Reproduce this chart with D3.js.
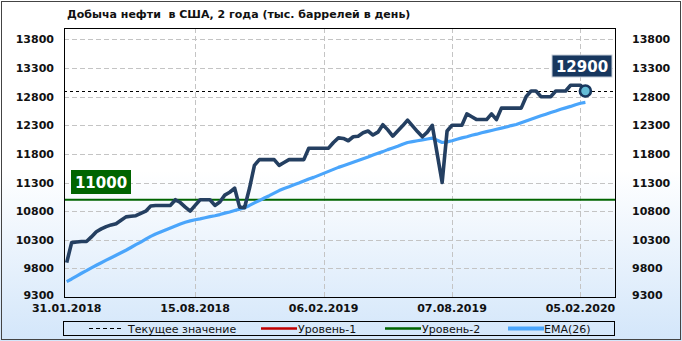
<!DOCTYPE html>
<html><head><meta charset="utf-8">
<script src="https://cdn.jsdelivr.net/npm/d3@7"></script>
<style>
html,body{margin:0;padding:0;background:#fff;}
svg{display:block;}
text{font-family:"DejaVu Sans",Verdana,sans-serif;}
</style></head>
<body><svg id="c" width="682" height="341"></svg>
<script>
const title = "Добыча нефти  в США, 2 года (тыс. баррелей в день)";
const xTickLabels = ["31.01.2018","15.08.2018","06.02.2019","07.08.2019","05.02.2020"];
const xTickIndex = [0, 26, 52, 78, 104];
const yTicks = [9300, 9800, 10300, 10800, 11300, 11800, 12300, 12800, 13300, 13800];
const production = [
 9900,10250,10260,10270,10270,10350,10440,10490,10530,10560,
 10580,10640,10700,10710,10720,10760,10800,10890,10900,10900,
 10900,10900,11000,10950,10870,10800,10900,11000,11000,11000,
 10900,10960,11080,11130,11200,10870,10860,11200,11600,11700,
 11700,11700,11700,11600,11650,11700,11700,11700,11700,11900,
 11900,11900,11900,11900,12000,12080,12070,12030,12100,12110,
 12170,12200,12130,12180,12310,12220,12110,12200,12290,12390,
 12290,12190,12100,12180,12300,11800,11300,12200,12300,12300,
 12300,12500,12450,12400,12400,12400,12500,12400,12600,12600,
 12600,12600,12600,12800,12900,12900,12800,12800,12800,12900,
 12900,12900,13000,13000,13000,12900];
const ema26 = [
 9570,9615,9665,9715,9760,9810,9855,9899,9943,9986,
 10030,10073,10117,10165,10215,10260,10310,10360,10400,10435,
 10470,10505,10540,10575,10605,10630,10650,10665,10685,10705,
 10720,10740,10765,10785,10810,10835,10860,10900,10945,10985,
 11030,11070,11115,11160,11195,11225,11260,11290,11325,11360,
 11390,11425,11460,11495,11530,11565,11595,11625,11655,11685,
 11715,11745,11780,11810,11840,11875,11905,11935,11970,12000,
 12015,12030,12045,12060,12075,12040,12000,12010,12030,12055,
 12080,12100,12125,12145,12170,12190,12210,12230,12250,12270,
 12295,12315,12345,12375,12405,12435,12465,12495,12525,12550,
 12580,12605,12630,12660,12685,12700];
const currentValue = 12900;
const level2 = 11000;
const legendLabels = ["Текущее значение","Уровень-1","Уровень-2","EMA(26)"];

const svg = d3.select("#c");
const W = 682, H = 341;
const P = {l:64, r:615, t:28, b:297};

const defs = svg.append("defs");
const g = defs.append("linearGradient").attr("id","bg").attr("x1",0).attr("y1",0).attr("x2",0).attr("y2",1);
g.append("stop").attr("offset","0").attr("stop-color","#ffffff");
g.append("stop").attr("offset","0.5").attr("stop-color","#ffffff");
g.append("stop").attr("offset","1").attr("stop-color","#d3e6fa");
svg.append("rect").attr("x",0).attr("y",0).attr("width",W).attr("height",H).attr("fill","url(#bg)");
svg.append("rect").attr("x",1.5).attr("y",1.5).attr("width",W-3).attr("height",H-3)
  .attr("fill","none").attr("stroke","#444").attr("stroke-width",1);

const x = d3.scaleLinear().domain([0, production.length-1]).range([66.7, 585.4]);
const y = d3.scaleLinear().domain([9300, 14000]).range([P.b, P.t]);

// grid
svg.append("g").selectAll("line").data(yTicks.filter(v=>v>9300)).join("line")
  .attr("x1",P.l).attr("x2",P.r).attr("y1",d=>Math.round(y(d))+0.5).attr("y2",d=>Math.round(y(d))+0.5)
  .attr("stroke","#c4c4c4").attr("stroke-dasharray","5,3");
svg.append("g").selectAll("line").data(xTickIndex.slice(1)).join("line")
  .attr("x1",d=>Math.round(x(d))+0.5).attr("x2",d=>Math.round(x(d))+0.5).attr("y1",P.t).attr("y2",P.b)
  .attr("stroke","#c4c4c4").attr("stroke-dasharray","5,3");

// y labels
const yl = svg.append("g").attr("font-size","11px").attr("font-weight","bold").attr("fill","#111");
yl.selectAll("text.l").data(yTicks).join("text").attr("class","l")
  .attr("x",54).attr("y",d=>Math.min(y(d),295)+4).attr("text-anchor","end").text(d=>d);
yl.selectAll("text.r").data(yTicks).join("text").attr("class","r")
  .attr("x",632).attr("y",d=>Math.min(y(d),295)+4).attr("text-anchor","start").text(d=>d);

// x labels
svg.append("g").attr("font-size","11px").attr("font-weight","bold").attr("fill","#111")
  .selectAll("text").data(xTickIndex).join("text")
  .attr("x",d=>x(d)).attr("y",312).attr("text-anchor","middle").text((d,i)=>xTickLabels[i]);

// level 2 line
svg.append("line").attr("x1",P.l).attr("x2",P.r).attr("y1",y(level2)).attr("y2",y(level2))
  .attr("stroke","#006400").attr("stroke-width",2);
// current value line
svg.append("line").attr("x1",P.l).attr("x2",P.r).attr("y1",Math.round(y(currentValue))+0.5).attr("y2",Math.round(y(currentValue))+0.5)
  .attr("stroke","#000").attr("stroke-width",1).attr("stroke-dasharray","3,3");

const line = d3.line().x((d,i)=>x(i)).y(d=>y(d));
svg.append("path").attr("d",line(ema26)).attr("fill","none").attr("stroke","#4aa5fb").attr("stroke-width",3.2)
  .attr("stroke-linejoin","round");
svg.append("path").attr("d",line(production)).attr("fill","none").attr("stroke","#243f61").attr("stroke-width",3.6)
  .attr("stroke-linejoin","round");

// plot frame
svg.append("rect").attr("x",P.l+0.5).attr("y",P.t+0.5).attr("width",P.r-P.l).attr("height",P.b-P.t)
  .attr("fill","none").attr("stroke","#000");

// end marker
const last = production.length-1;
svg.append("circle").attr("cx",x(last)).attr("cy",y(production[last])).attr("r",5.5)
  .attr("fill","#63bcd6").attr("stroke","#17375e").attr("stroke-width",2.6);

// value labels
function valLabel(cx, cy, w, h, fill, stroke, txt){
  svg.append("rect").attr("x",cx-w/2).attr("y",cy-h/2).attr("width",w).attr("height",h)
    .attr("fill",fill).attr("stroke",stroke||"none").attr("stroke-width",1);
  svg.append("text").attr("x",cx).attr("y",cy+5.5).attr("text-anchor","middle")
    .attr("font-size","15px").attr("font-weight","bold").attr("fill","#fff").text(txt);
}
valLabel(101, 182, 60, 24, "#006400", null, level2);
valLabel(582, 66, 60, 22, "#17375e", "#c8d0da", currentValue);

// title
svg.append("text").attr("x",67).attr("y",18).attr("font-size","11px").attr("font-weight","bold")
  .attr("fill","#111").style("white-space","pre").text(title);

// legend
const L = svg.append("g");
L.append("rect").attr("x",63.5).attr("y",321.5).attr("width",551).attr("height",14)
  .attr("fill","none").attr("stroke","#000");
const items = [
  {x1:89,x2:124,color:"#000",w:1,dash:"4,3",tx:128},
  {x1:261,x2:297,color:"#c00000",w:2.5,dash:null,tx:298},
  {x1:385,x2:421,color:"#006400",w:2.5,dash:null,tx:422},
  {x1:508,x2:544,color:"#4aa5fb",w:4,dash:null,tx:544}
];
items.forEach((it,i)=>{
  L.append("line").attr("x1",it.x1).attr("x2",it.x2).attr("y1",328.5).attr("y2",328.5)
   .attr("stroke",it.color).attr("stroke-width",it.w).attr("stroke-dasharray",it.dash);
  L.append("text").attr("x",it.tx).attr("y",332.5).attr("font-size","11px").attr("fill","#111").text(legendLabels[i]);
});
</script></body></html>
